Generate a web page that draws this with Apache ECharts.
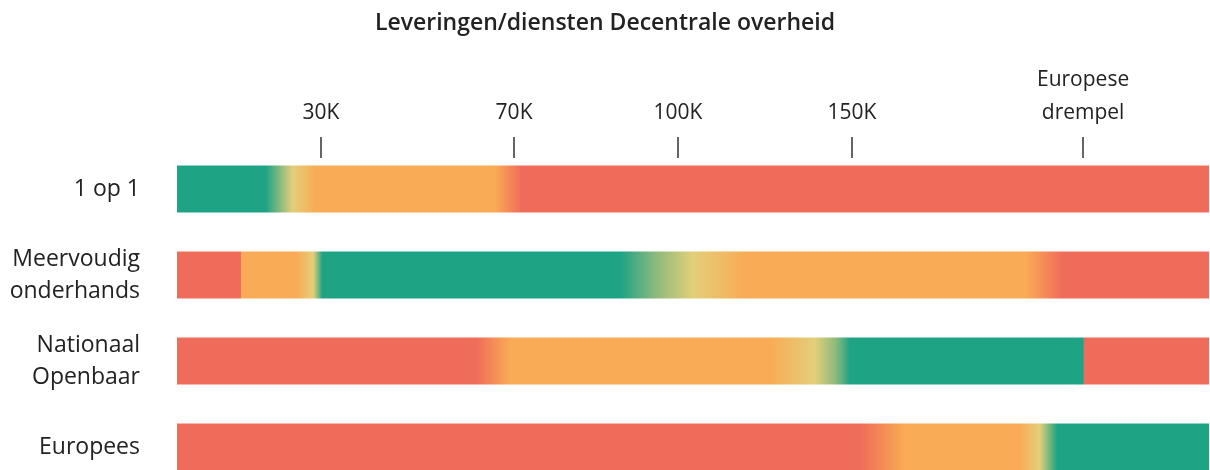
<!DOCTYPE html>
<html>
<head>
<meta charset="utf-8">
<script src="https://cdn.jsdelivr.net/npm/echarts@6/dist/echarts.min.js"></script>
<style>
html,body{margin:0;padding:0;background:#fff;}
#chart{width:1210px;height:470px;}
</style>
</head>
<body>
<div id="chart"></div>
<script>
// Data
var title = 'Leveringen/diensten Decentrale overheid';
var categories = ['1 op 1', 'Meervoudig\nonderhands', 'Nationaal\nOpenbaar', 'Europees'];
// Axis runs 0..100 along the bar length (non-linear amount scale)
var tickPositions = [13.95, 32.66, 48.55, 65.4, 87.8];
var tickLabels = ['30K', '70K', '100K', '150K', 'Europese\ndrempel'];
var barExtent = [100, 100, 100, 100];
// Colour zones along each bar: [axis position, zone]  G=green, Y=transition, O=orange, R=red
var zones1op1 = [[0,'G'],[8.6,'G'],[11.2,'Y'],[13.4,'O'],[30.8,'O'],[33.4,'R'],[100,'R']];
var zonesMeervoudig = [[0,'R'],[6.15,'R'],[6.25,'O'],[11.6,'O'],[13.2,'Y'],[14.1,'G'],[43.0,'G'],[46.5,'M'],[50.0,'Y'],[55.0,'O'],[82.3,'O'],[85.8,'R'],[100,'R']];
var zonesNationaal = [[0,'R'],[29.0,'R'],[32.3,'O'],[57.5,'O'],[61.8,'Y'],[63.8,'M'],[65.2,'G'],[87.8,'G'],[87.9,'R'],[100,'R']];
var zonesEuropees = [[0,'R'],[66.2,'R'],[70.5,'O'],[81.6,'O'],[83.6,'Y'],[85.3,'G'],[100,'G']];
var rowZones = [zones1op1, zonesMeervoudig, zonesNationaal, zonesEuropees];

// Styles
var zoneColors = {G:'#1fa385', M:'#8fba7c', Y:'#e3cf7a', O:'#f9ab55', R:'#f06c5a'};
var font = '"Open Sans", "Noto Sans", sans-serif';

var chart = echarts.init(document.getElementById('chart'));
var seriesData = barExtent.map(function (v, i) {
  var stops = rowZones[i].map(function (s) {
    return {offset: s[0] / 100, color: zoneColors[s[1]]};
  });
  return {
    value: v,
    itemStyle: {color: new echarts.graphic.LinearGradient(0, 0, 1, 0, stops)}
  };
});

chart.setOption({
  animation: false,
  backgroundColor: '#ffffff',
  title: {
    text: title,
    left: 'center',
    top: 7,
    textStyle: {fontFamily: font, fontSize: 23, fontWeight: 600, color: '#222'}
  },
  grid: {left: 177, right: 1, top: 146, height: 344, outerBoundsMode: 'none', containLabel: false},
  xAxis: {
    type: 'value',
    position: 'top',
    min: 0,
    max: 100,
    offset: -12,
    axisLine: {show: false},
    splitLine: {show: false},
    axisTick: {
      show: true,
      customValues: tickPositions,
      length: 21,
      lineStyle: {color: '#333', width: 1.5}
    },
    axisLabel: {
      customValues: tickPositions,
      margin: 28,
      fontFamily: font,
      fontSize: 21,
      lineHeight: 33,
      color: '#222',
      formatter: function (val) {
        var idx = tickPositions.indexOf(val);
        return idx >= 0 ? tickLabels[idx] : '';
      }
    }
  },
  yAxis: {
    type: 'category',
    inverse: true,
    data: categories,
    axisLine: {show: false},
    axisTick: {show: false},
    axisLabel: {
      margin: 37,
      fontFamily: font,
      fontSize: 23,
      lineHeight: 32,
      color: '#222',
      align: 'right'
    }
  },
  series: [{
    type: 'bar',
    data: seriesData,
    barWidth: 47,
    silent: true
  }]
});
</script>
</body>
</html>
